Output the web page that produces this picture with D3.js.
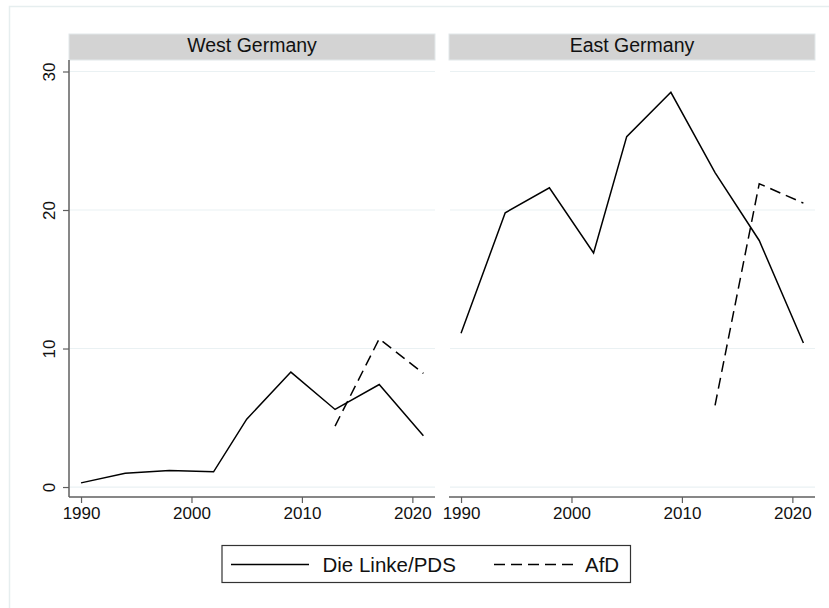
<!DOCTYPE html>
<html>
<head>
<meta charset="utf-8">
<script src="https://cdn.jsdelivr.net/npm/d3@7"></script>
<style>
  body { margin: 0; background: #fff; }
  svg { display: block; font-family: "Liberation Sans", Arial, sans-serif; }
</style>
</head>
<body>
<svg id="chart" width="829" height="608"></svg>
<script>
const years = [1990, 1994, 1998, 2002, 2005, 2009, 2013, 2017, 2021];
const afdYears = [2013, 2017, 2021];
const westLinke = [0.3, 1.0, 1.2, 1.1, 4.9, 8.3, 5.6, 7.4, 3.7];
const westAfD = [4.4, 10.7, 8.2];
const eastLinke = [11.1, 19.8, 21.6, 16.9, 25.3, 28.5, 22.7, 17.8, 10.4];
const eastAfD = [5.9, 21.9, 20.5];
const panelTitles = ["West Germany", "East Germany"];
const seriesNames = ["Die Linke/PDS", "AfD"];
const xTicks = [1990, 2000, 2010, 2020];
const yTicks = [0, 10, 20, 30];

const svg = d3.select("#chart");
const gridCol = "#eaf1f3";
const axisCol = "#5f5f5f";

// outer frame
svg.append("rect").attr("x", 9.5).attr("y", 6.5).attr("width", 840).attr("height", 620)
  .attr("fill", "#fff").attr("stroke", "#e6eeef").attr("stroke-width", 1.5);

const y = d3.scaleLinear().domain([-0.72, 30.83]).range([497, 60]);

const panels = [
  {title: panelTitles[0], x0: 69, x1: 435, linke: westLinke, afd: westAfD, yAxis: true},
  {title: panelTitles[1], x0: 449, x1: 815, linke: eastLinke, afd: eastAfD, yAxis: false}
];

const dash = "11,6";

panels.forEach(p => {
  const x = d3.scaleLinear().domain([1988.91, 2022.05]).range([p.x0, p.x1]);
  const g = svg.append("g");

  // strip
  g.append("rect").attr("x", p.x0).attr("y", 34).attr("width", p.x1 - p.x0).attr("height", 26)
    .attr("fill", "#d3d3d3").attr("stroke", "#e2e8ea").attr("stroke-width", 1);
  g.append("text").attr("x", (p.x0 + p.x1) / 2).attr("y", 51.5).attr("text-anchor", "middle")
    .attr("font-size", 19.5).attr("fill", "#111").text(p.title);

  // gridlines
  g.selectAll(".grid").data(yTicks).enter().append("line")
    .attr("x1", p.x0 + 1).attr("x2", p.x1)
    .attr("y1", d => y(d)).attr("y2", d => y(d))
    .attr("stroke", gridCol).attr("stroke-width", 1.2);

  // x axis
  const xa = g.append("g").attr("transform", "translate(0,497)")
    .call(d3.axisBottom(x).tickValues(xTicks).tickFormat(d3.format("d")).tickSize(6).tickPadding(4));
  xa.select(".domain").attr("stroke", axisCol).attr("stroke-width", 1.5).attr("d", `M${p.x0},0H${p.x1}`);
  xa.selectAll(".tick line").attr("stroke", axisCol).attr("stroke-width", 1.2);
  xa.selectAll(".tick text").attr("font-size", 17).attr("fill", "#111")
    .attr("font-family", "Liberation Sans, Arial, sans-serif");

  if (p.yAxis) {
    const ya = g.append("g").attr("transform", `translate(${p.x0},0)`)
      .call(d3.axisLeft(y).tickValues(yTicks).tickSize(6).tickFormat(d3.format("d")));
    ya.select(".domain").attr("stroke", axisCol).attr("stroke-width", 1.5).attr("d", `M0,60V497`);
    ya.selectAll(".tick line").attr("stroke", axisCol).attr("stroke-width", 1.2);
    ya.selectAll(".tick text").attr("font-size", 17).attr("fill", "#111")
      .attr("font-family", "Liberation Sans, Arial, sans-serif")
      .attr("x", null).attr("dy", null)
      .attr("text-anchor", "middle")
      .attr("transform", "translate(-14,0) rotate(-90)");
  }

  const line = d3.line().x(d => x(d[0])).y(d => y(d[1]));
  g.append("path").datum(years.map((yr, i) => [yr, p.linke[i]]))
    .attr("d", line).attr("fill", "none").attr("stroke", "#000").attr("stroke-width", 1.5)
    .attr("stroke-linejoin", "miter");
  g.append("path").datum(afdYears.map((yr, i) => [yr, p.afd[i]]))
    .attr("d", line).attr("fill", "none").attr("stroke", "#000").attr("stroke-width", 1.5)
    .attr("stroke-dasharray", dash);
});

// legend
const lg = svg.append("g");
lg.append("rect").attr("x", 222).attr("y", 545.5).attr("width", 408.5).attr("height", 37)
  .attr("fill", "#fff").attr("stroke", "#333").attr("stroke-width", 1.2);
lg.append("line").attr("x1", 231).attr("x2", 309).attr("y1", 564.5).attr("y2", 564.5)
  .attr("stroke", "#000").attr("stroke-width", 1.5);
lg.append("text").attr("x", 322.5).attr("y", 571.5).attr("font-size", 20.5).attr("fill", "#111").text(seriesNames[0]);
lg.append("line").attr("x1", 494).attr("x2", 573).attr("y1", 564.5).attr("y2", 564.5)
  .attr("stroke", "#000").attr("stroke-width", 1.5).attr("stroke-dasharray", dash);
lg.append("text").attr("x", 585).attr("y", 571.5).attr("font-size", 20.5).attr("fill", "#111").text(seriesNames[1]);
</script>
</body>
</html>
